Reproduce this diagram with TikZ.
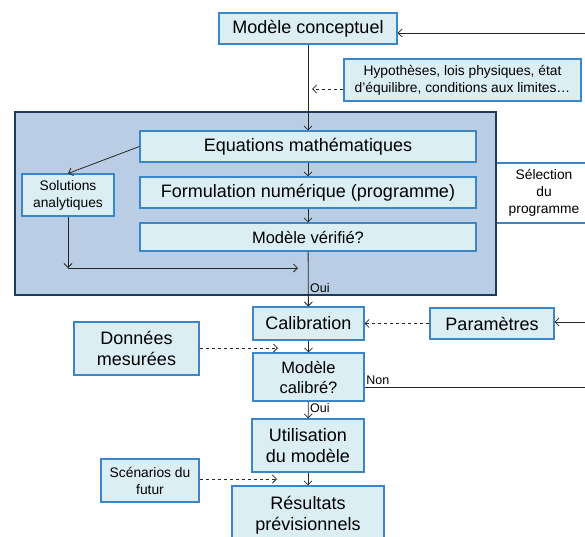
\documentclass[tikz,border=0pt]{standalone}
\usepackage{fontspec}
\setmainfont{Liberation Sans}
\usetikzlibrary{positioning,arrows.meta}
\definecolor{boxblue}{HTML}{DAEEF3}
\definecolor{edgeblue}{HTML}{3A86C8}
\definecolor{panelblue}{HTML}{B9CDE5}
\definecolor{panelnavy}{HTML}{1F3B5C}
\definecolor{wireblack}{HTML}{262626}

\begin{document}
\begin{tikzpicture}[x=10pt, y=-10pt, >={Straight Barb[length=4pt,width=8pt]},
  bigbox/.style={draw=edgeblue, line width=1.1pt, fill=boxblue, text=black, inner sep=0pt, align=center, font=\fontsize{18}{21.5}\selectfont},
  midbox/.style={bigbox, font=\fontsize{16.5}{20}\selectfont},
  smallbox/.style={bigbox, font=\fontsize{13.8}{17}\selectfont},
  lbl/.style={font=\fontsize{12.5}{14}\selectfont, text=black, inner sep=1.5pt},
  wire/.style={->, wireblack, line width=0.8pt},
  dashwire/.style={wire, dashed}
]
  \useasboundingbox (0,0) rectangle (58.5,53.6);

  % panel of the verification loop
  \node[smallbox, draw=edgeblue, fill=white, minimum width=96pt, minimum height=60pt] (sel) at (54.4,19.3) {S\'election\\du\\programme};
  \node[draw=panelnavy, line width=2.5pt, fill=panelblue, minimum width=481pt, minimum height=183pt, inner sep=0pt] (panel) at (25.55,20.35) {};

  \node[bigbox, minimum width=178pt, minimum height=31pt] (concept) at (30.8,2.85) {Mod\`ele conceptuel};
  \node[smallbox, minimum width=237pt, minimum height=42pt] (hyp) at (46.25,8.0) {Hypoth\`eses, lois physiques, \'etat\\d'\'equilibre, conditions aux limites\ldots};

  \node[bigbox, minimum width=336pt, minimum height=31pt] (eqn) at (30.8,14.65) {Equations math\'ematiques};
  \node[bigbox, minimum width=336pt, minimum height=31pt] (form) at (30.8,19.25) {Formulation num\'erique (programme)};
  \node[midbox, minimum width=336pt, minimum height=28pt] (verif) at (30.8,23.7) {Mod\`ele v\'erifi\'e?};
  \node[smallbox, minimum width=92pt, minimum height=42pt] (sol) at (6.8,19.5) {Solutions\\analytiques};

  \node[bigbox, minimum width=111pt, minimum height=33pt] (calib) at (30.85,32.35) {Calibration};
  \node[bigbox, minimum width=124pt, minimum height=31pt] (param) at (49.2,32.35) {Param\`etres};
  \node[bigbox, minimum width=125pt, minimum height=53pt] (donnees) at (13.65,34.85) {Donn\'ees\\mesur\'ees};
  \node[midbox, minimum width=111pt, minimum height=48pt] (calibre) at (30.85,37.7) {Mod\`ele\\calibr\'e?};
  \node[bigbox, minimum width=112pt, minimum height=53pt] (util) at (30.8,44.55) {Utilisation\\du mod\`ele};
  \node[smallbox, minimum width=98pt, minimum height=43pt] (scen) at (15.0,48.05) {Sc\'enarios du\\futur};
  \node[bigbox, minimum width=152pt, minimum height=58pt] (result) at (30.8,51.5) {R\'esultats\\pr\'evisionnels};

  % loose ends and arrow tips
  \coordinate (fbtop) at (58.5,3.3);
  \coordinate (fbpar) at (58.5,32.2);
  \coordinate (fbnon) at (58.5,38.7);
  \coordinate (hyptip) at (31.2,8.9);
  \coordinate (corner) at (6.8,26.8);
  \coordinate (merge) at (29.8,26.8);
  \coordinate (dontip) at (27.8,34.8);
  \coordinate (scentip) at (27.7,47.9);

  \draw[wire] (fbtop) -- (fbtop -| concept.east);
  \draw[wire] (concept) -- (eqn);
  \draw[dashwire] (hyp.west |- hyptip) -- (hyptip);
  \draw[wire] (eqn.west) -- (sol.north);
  \draw[wire] (eqn) -- (form);
  \draw[wire] (form) -- (verif);
  \draw[wire] (sol) -- (corner);
  \draw[wire] (corner) -- (merge);
  \draw[wire] (verif) -- (calib) node[pos=0.66, right, lbl] {Oui};

  \draw[wire] (fbpar) -- (fbpar -| param.east);
  \draw[dashwire] (param) -- (calib);
  \draw[wire] (calib) -- (calibre);
  \draw[dashwire] (donnees.east |- dontip) -- (dontip);
  \draw[wireblack, line width=0.8pt] (calibre.east |- fbnon) -- (fbnon)
    node[pos=0, above right, lbl] {Non};
  \draw[wire] (calibre) -- (util) node[pos=0.4, right, lbl] {Oui};
  \draw[wire] (util) -- (result);
  \draw[dashwire] (scen.east |- scentip) -- (scentip);
\end{tikzpicture}
\end{document}
